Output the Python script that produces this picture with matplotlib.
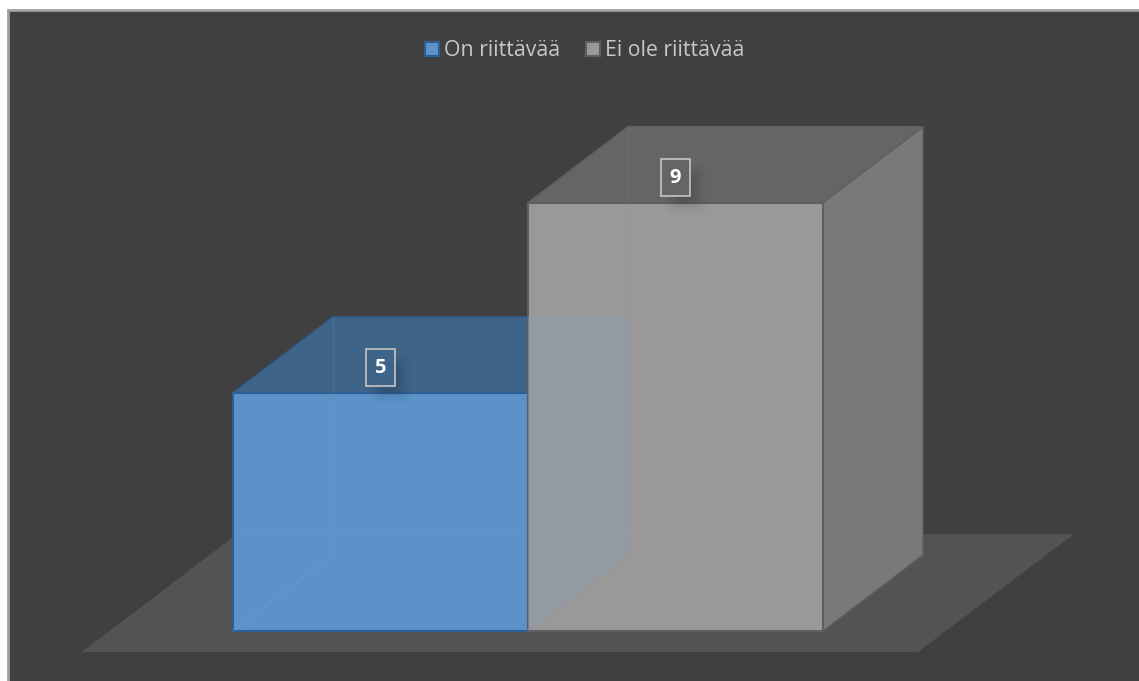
import matplotlib
matplotlib.use("Agg")
import matplotlib.pyplot as plt
from matplotlib.patches import Polygon, Rectangle, FancyBboxPatch

categories = ['On riittävää', 'Ei ole riittävää']
values = [5, 9]

front_cols = ['#5b93c8', '#999999']
top_cols = ['#3e6488', '#656565']
side_cols = ['#3e6488', '#797979']
edge_cols = ['#2f5f92', '#5f5f5f']

# pixel layout of the fake 3d box
W, H = 1139, 681
base_y = 631
unit = 47.6
bar_x0 = 233
bar_w = 295
dx, dy = 100, -76

fig = plt.figure(figsize=(W / 100, H / 100), dpi=100, facecolor='white')
ax = fig.add_axes([0, 0, 1, 1])
ax.set_xlim(0, W)
ax.set_ylim(H, 0)
ax.axis('off')

# background + thin frame
ax.add_patch(Rectangle((8, 10), W, H, fc='#404040', ec='#a0a0a0', lw=2, zorder=0))

# floor
ax.add_patch(Polygon([(82, 652), (918, 652), (1074, 534), (237, 534)], fc='#545252', ec='none', zorder=1))


def box(i, val, z):
    x0 = bar_x0 + i * bar_w
    x1 = x0 + bar_w
    y1 = base_y - val * unit
    edge = edge_cols[i]
    side = Polygon([(x1, y1), (x1 + dx, y1 + dy), (x1 + dx, base_y + dy), (x1, base_y)],
                   fc=side_cols[i], ec=edge, lw=1.0, zorder=z + 0.1)
    top = Polygon([(x0, y1), (x0 + dx, y1 + dy), (x1 + dx, y1 + dy), (x1, y1)],
                  fc=top_cols[i], ec=edge, lw=1.0, zorder=z + 0.2)
    front = Rectangle((x0, y1), bar_w, val * unit, fc=front_cols[i], ec=edge, lw=1.5, zorder=z + 0.3)
    ax.add_patch(side)
    ax.add_patch(top)
    ax.add_patch(front)
    # back edges, faintly seen through the faces
    ax.plot([x0 + dx, x0 + dx], [y1 + dy, base_y + dy], color='#7fb0dd' if i == 0 else '#8a8a8a',
            lw=0.8, alpha=0.15, zorder=z + 0.4)
    ax.plot([x0, x0 + dx], [base_y, base_y + dy], color='#7fb0dd' if i == 0 else '#8a8a8a',
            lw=1.0, alpha=0.2, zorder=z + 0.4)
    return x0, y1


def label(i, val, x0, y1, z):
    cx = x0 + 147
    cy = y1 - 26
    # soft shadow under the label
    for grow, a in [(13, 0.02), (10, 0.025), (7, 0.03), (4, 0.035), (1, 0.04)]:
        ax.add_patch(FancyBboxPatch((cx - 8 - grow + 10, cy - 8 - grow + 8), 16 + 2 * grow, 24 + 2 * grow,
                                    boxstyle='round,pad=0,rounding_size=8', fc='black', ec='none',
                                    alpha=a, zorder=z))
    ax.add_patch(Rectangle((cx - 14, cy - 18), 29, 37, fc=top_cols[i], ec='#c6c6c6', lw=1.2, zorder=z + 0.1))
    ax.text(cx, cy + 1, str(val), color='white', fontsize=14.5, fontweight='bold', family='Open Sans',
            ha='center', va='center', zorder=z + 0.2)


# blue box first, then the see-through grey one on top of it
x0, y1 = box(0, values[0], 2)
label(0, values[0], x0, y1, 2.5)
x0, y1 = box(1, values[1], 3)
label(1, values[1], x0, y1, 4)

# the blue box's back part shows through the grey front
seam_x = bar_x0 + bar_w
back_top = base_y + dy - values[0] * unit
ax.add_patch(Polygon([(seam_x, back_top), (seam_x + dx, back_top), (seam_x + dx, base_y + dy), (seam_x, base_y)],
                     fc='#8f9db0', ec='none', alpha=0.5, zorder=3.45))

# floor's back line faintly through the grey and blue fronts
ax.plot([bar_x0, seam_x + bar_w], [534, 534], color='white', lw=0.8, alpha=0.03, zorder=3.5)

# legend
ax.add_patch(Rectangle((425, 42), 14, 14, fc=front_cols[0], ec=edge_cols[0], lw=1.5, zorder=6))
ax.text(444, 50, categories[0], color='#c8c8c8', fontsize=15.3, family='Open Sans', va='center', zorder=6)
ax.add_patch(Rectangle((586, 42), 14, 14, fc=front_cols[1], ec=edge_cols[1], lw=1.5, zorder=6))
ax.text(605, 50, categories[1], color='#c8c8c8', fontsize=15.3, family='Open Sans', va='center', zorder=6)

fig.savefig('out.png', dpi=100, facecolor=fig.get_facecolor())
